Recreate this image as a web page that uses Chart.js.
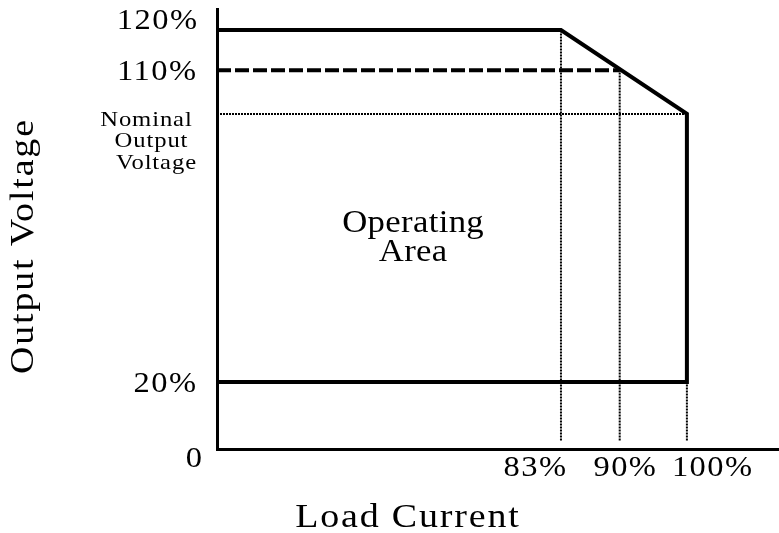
<!DOCTYPE html>
<html>
<head>
<meta charset="utf-8">
<script src="https://cdn.jsdelivr.net/npm/chart.js@4"></script>
<style>
  body { margin: 0; background: #fff; }
  #wrap { width: 779px; height: 533px; }
</style>
</head>
<body>
<div id="wrap"><canvas id="myChart"></canvas></div>
<script>
// Eje X (corriente de carga), posiciones esquemáticas
let loadLabels = ['83%', '90%', '100%'];
let loadPos = [73.2, 85.7, 100];

// Eje Y (tensión de salida), posiciones esquemáticas
let voltLabels = ['0', '20%', ['Nominal', 'Output', 'Voltage'], '110%', '120%'];
let voltPos = [0, 20, 100, 113, 125];

// Contorno del área de trabajo
let boundaryX = [0, 73.2, 100, 100, 0];
let boundaryY = [125, 125, 100, 20, 20];

// Límite del 110%
let limitX = [0, 85.7];
let limitY = [113, 113];

// Nivel nominal
let nominalX = [0, 100];
let nominalY = [100, 100];

// Guías verticales (desde el eje hasta la curva)
let guideBottom = 2.5;
let guideTop = [125, 113, 20];

let areaLabel = ['Operating', 'Area'];
let areaLabelPos = [41.7, 61];

function toPoints(xs, ys) {
	return xs.map((x, i) => ({ x: x, y: ys[i] }));
}

let datasets = [];
datasets.push({ data: toPoints(boundaryX, boundaryY), borderColor: '#000', borderWidth: 4, borderJoinStyle: 'miter' });
datasets.push({ data: toPoints(limitX, limitY), borderColor: '#000', borderWidth: 4, borderDash: [14, 4] });
datasets.push({ data: toPoints(nominalX, nominalY), borderColor: '#000', borderWidth: 2, borderDash: [2, 1] });
loadPos.forEach((x, i) => {
	datasets.push({ data: [{ x: x, y: guideBottom }, { x: x, y: guideTop[i] }], borderColor: '#000', borderWidth: 2, borderDash: [2, 1] });
});

const FONT = "'Liberation Serif', 'Times New Roman', serif";

// Dibuja un texto algo ensanchado y espaciado, como en el original
function drawText(ctx, text, x, y, size, align, spacing, stretch) {
	ctx.save();
	ctx.translate(x, y);
	ctx.scale(stretch || 1.12, 1);
	ctx.font = size + 'px ' + FONT;
	ctx.letterSpacing = spacing + 'px';
	ctx.textAlign = align;
	ctx.textBaseline = 'middle';
	ctx.fillStyle = '#000';
	// el espaciado añade un hueco al final: se compensa
	let dx = 0;
	if (align == 'center') dx = spacing / 2;
	if (align == 'right') dx = spacing;
	ctx.fillText(text, dx, 0);
	ctx.restore();
}

const textPlugin = {
	id: 'textos',
	afterDraw(chart) {
		const ctx = chart.ctx;
		const xs = chart.scales.x;
		const ys = chart.scales.y;
		const left = chart.chartArea.left;
		const bottom = chart.chartArea.bottom;

		// Etiquetas del eje Y
		voltLabels.forEach((lab, i) => {
			let py = ys.getPixelForValue(voltPos[i]);
			if (Array.isArray(lab)) {
				lab.forEach((line, j) => {
					drawText(ctx, line, left - 71 + j * 5, py + 6 + j * 21.5, 22, 'center', 0.8);
				});
			} else if (i == 0) {
				drawText(ctx, lab, left - 15, py + 10, 29, 'right', 1.3);
			} else if (i == 4) {
				drawText(ctx, lab, left - 20, py - 9, 29, 'right', 1.3);
			} else {
				drawText(ctx, lab, left - 21, py + 2, 29, 'right', 1.3);
			}
		});

		// Etiquetas del eje X
		loadLabels.forEach((lab, i) => {
			let px = xs.getPixelForValue(loadPos[i]);
			if (i == 0) drawText(ctx, lab, px + 5, bottom + 19, 29, 'right', 1.3);
			else if (i == 1) drawText(ctx, lab, px + 5, bottom + 19, 29, 'center', 1.3);
			else drawText(ctx, lab, px - 15, bottom + 19, 29, 'left', 1.3);
		});

		// Texto del área
		let ax = xs.getPixelForValue(areaLabelPos[0]);
		let ay = ys.getPixelForValue(areaLabelPos[1]);
		drawText(ctx, areaLabel[0], ax, ay - 21, 31, 'center', 0.3);
		drawText(ctx, areaLabel[1], ax, ay + 8, 31, 'center', 0.3);

		// Títulos de los ejes
		drawText(ctx, 'Load Current', 407, 518, 33, 'center', 1.6, 1.15);
		ctx.save();
		ctx.translate(24, 247);
		ctx.rotate(-Math.PI / 2);
		drawText(ctx, 'Output Voltage', 0, 0, 33, 'center', 1.6, 1.15);
		ctx.restore();
	}
};

const config = {
	type: 'line',
	data: { datasets: datasets },
	options: {
		responsive: true,
		maintainAspectRatio: false,
		animation: false,
		devicePixelRatio: 1,
		layout: { padding: { left: 217, top: 9, right: 0, bottom: 84 } },
		elements: { point: { radius: 0 }, line: { tension: 0, fill: false } },
		plugins: { legend: { display: false }, tooltip: { enabled: false } },
		scales: {
			x: {
				type: 'linear', min: 0, max: 119.6,
				grid: { display: false },
				ticks: { display: false },
				border: { display: true, color: '#000', width: 3 },
				afterFit(scale) { scale.height = 0; }
			},
			y: {
				type: 'linear', min: 0, max: 131.3,
				grid: { display: false },
				ticks: { display: false },
				border: { display: true, color: '#000', width: 3 },
				afterFit(scale) { scale.width = 0; }
			}
		}
	},
	plugins: [textPlugin]
};

let myChart = new Chart(document.getElementById('myChart'), config);
</script>
</body>
</html>
